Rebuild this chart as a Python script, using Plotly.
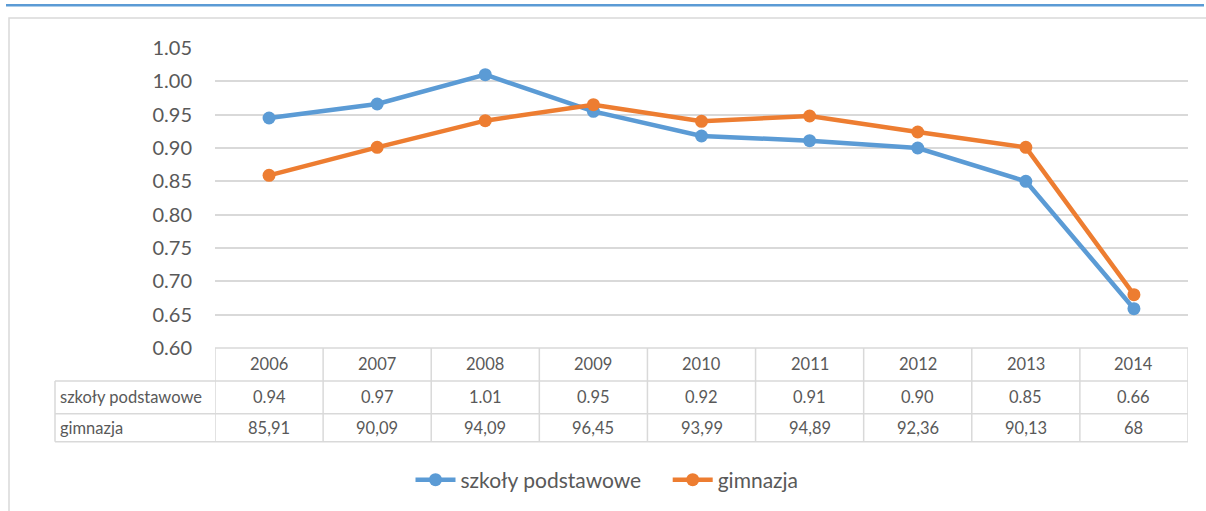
import plotly.graph_objects as go

years = ["2006", "2007", "2008", "2009", "2010", "2011", "2012", "2013", "2014"]
szkoly = [0.945, 0.966, 1.010, 0.955, 0.918, 0.911, 0.900, 0.850, 0.659]
gimnazja = [0.859, 0.901, 0.941, 0.965, 0.940, 0.948, 0.924, 0.901, 0.680]
szkoly_labels = ["0.94", "0.97", "1.01", "0.95", "0.92", "0.91", "0.90", "0.85", "0.66"]
gimnazja_labels = ["85,91", "90,09", "94,09", "96,45", "93,99", "94,89", "92,36", "90,13", "68"]
series_names = ["szkoły podstawowe", "gimnazja"]
yticks = [0.60, 0.65, 0.70, 0.75, 0.80, 0.85, 0.90, 0.95, 1.00, 1.05]

W, H = 1206, 511
L, R, T, B = 215, 18, 48, 162
pw, ph = W - L - R, H - T - B

def px(x):
    return (x - L) / pw

def py(y):
    return (H - B - y) / ph

BLUE = "#5b9bd5"
ORANGE = "#ed7d31"
GRID = "#d9d9d9"
TXT = "#595959"
FONT = "Lato, 'Open Sans', sans-serif"

xs = list(range(len(years)))
fig = go.Figure()
for name, vals, col in [(series_names[0], szkoly, BLUE), (series_names[1], gimnazja, ORANGE)]:
    fig.add_trace(go.Scatter(x=xs, y=vals, name=name + "    ", mode="lines+markers",
                             line=dict(color=col, width=4.5),
                             marker=dict(color=col, size=13)))

shapes = []
# top blue line
shapes.append(dict(type="line", xref="paper", yref="paper", x0=px(6), x1=px(1204), y0=py(5), y1=py(5),
                   line=dict(color=BLUE, width=2.5)))
# outer border
shapes.append(dict(type="rect", xref="paper", yref="paper", x0=px(9), x1=px(1230), y0=py(18), y1=py(540),
                   line=dict(color=GRID, width=1.5), layer="below"))
# table lines
row_y = [349, 382, 415, 443]
for i, yy in enumerate(row_y):
    x0 = L if i == 0 else 55
    shapes.append(dict(type="line", xref="paper", yref="paper", x0=px(x0), x1=px(W - R), y0=py(yy), y1=py(yy),
                       line=dict(color=GRID, width=1.5)))
shapes.append(dict(type="line", xref="paper", yref="paper", x0=px(55), x1=px(55), y0=py(382), y1=py(443),
                   line=dict(color=GRID, width=1.5)))
for k in range(len(years) + 1):
    shapes.append(dict(type="line", xref="x", yref="paper", x0=k - 0.5, x1=k - 0.5, y0=py(349), y1=py(443),
                       line=dict(color=GRID, width=1.5)))

annotations = []
centers = [(349 + 382) / 2, (382 + 415) / 2, (415 + 443) / 2]
for i, yr in enumerate(years):
    for rowc, txt in zip(centers, [yr, szkoly_labels[i], gimnazja_labels[i]]):
        annotations.append(dict(x=i, xref="x", y=py(rowc), yref="paper", text=txt, showarrow=False,
                                font=dict(size=16.5, color=TXT, family=FONT), xanchor="center", yanchor="middle"))
for rowc, txt in zip(centers[1:], series_names):
    annotations.append(dict(x=px(58), xref="paper", y=py(rowc), yref="paper", text=txt, showarrow=False,
                            font=dict(size=16.5, color=TXT, family=FONT), xanchor="left", yanchor="middle"))

fig.update_layout(
    width=W, height=H,
    margin=dict(l=L, r=R, t=T, b=B),
    paper_bgcolor="white", plot_bgcolor="white",
    font=dict(family=FONT, color=TXT),
    xaxis=dict(range=[-0.5, len(years) - 0.5], showgrid=False, showticklabels=False, zeroline=False,
               showline=False, ticks=""),
    yaxis=dict(range=[0.60, 1.05], tickvals=yticks, ticktext=[f"{v:.2f}" for v in yticks],
               showgrid=True, gridcolor=GRID, gridwidth=1.5, zeroline=False, showline=False,
               tickfont=dict(size=20, color=TXT, family=FONT), ticklabelstandoff=22),
    legend=dict(orientation="h", x=px(618), xanchor="center", y=py(480), yanchor="middle",
                font=dict(size=21, color=TXT, family=FONT), itemwidth=40, bgcolor="rgba(0,0,0,0)"),
    shapes=shapes, annotations=annotations,
)

fig.write_html("out.html", config={"displayModeBar": False},
               post_script="document.body.style.margin='0';")
